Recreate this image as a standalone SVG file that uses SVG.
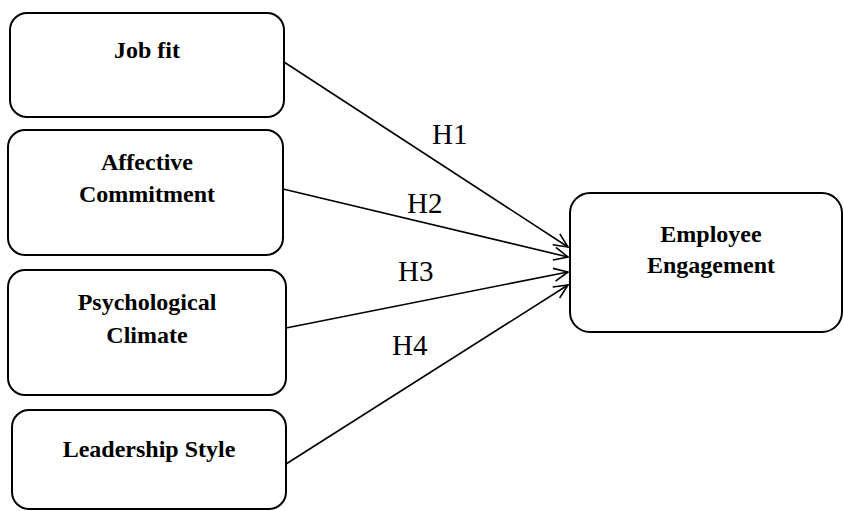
<svg xmlns="http://www.w3.org/2000/svg" width="844" height="511" viewBox="0 0 844 511">
  <style>
    .box { fill: #ffffff; stroke: #000000; stroke-width: 2; }
    .lbl { font-family: "Liberation Serif", "Times New Roman", serif; font-weight: bold; font-size: 24px; text-anchor: middle; fill: #000; }
    .h { font-family: "Liberation Serif", "Times New Roman", serif; font-size: 29px; fill: #000; }
    .conn { stroke: #000; stroke-width: 1.6; fill: none; marker-end: url(#arr); }
  </style>
  <defs>
    <marker id="arr" markerUnits="userSpaceOnUse" viewBox="-16 -8 18 16" refX="0" refY="0" markerWidth="18" markerHeight="16" orient="auto">
      <path d="M-14,-6.5 L0,0 L-14,6.5" fill="none" stroke="#000" stroke-width="1.6"/>
    </marker>
  </defs>
  <rect width="844" height="511" fill="#ffffff"/>
  <g id="job-fit">
    <rect class="box" x="10" y="13" width="274" height="104" rx="17" ry="17"/>
    <text class="lbl" x="147" y="58">Job fit</text>
  </g>
  <g id="affective-commitment">
    <rect class="box" x="8" y="130" width="275" height="125" rx="17" ry="17"/>
    <text class="lbl" x="147" y="170">Affective</text>
    <text class="lbl" x="147" y="202">Commitment</text>
  </g>
  <g id="psychological-climate">
    <rect class="box" x="8" y="270" width="278" height="125" rx="17" ry="17"/>
    <text class="lbl" x="147" y="310">Psychological</text>
    <text class="lbl" x="147" y="343">Climate</text>
  </g>
  <g id="leadership-style">
    <rect class="box" x="12" y="410" width="274" height="99" rx="17" ry="17"/>
    <text class="lbl" x="149" y="457">Leadership Style</text>
  </g>
  <g id="employee-engagement">
    <rect class="box" x="570" y="193" width="272" height="139" rx="20" ry="20"/>
    <text class="lbl" x="711" y="242">Employee</text>
    <text class="lbl" x="711" y="273">Engagement</text>
  </g>
  <g id="connectors">
    <line class="conn" x1="284" y1="62" x2="568" y2="247"/>
    <line class="conn" x1="283" y1="189" x2="568" y2="257"/>
    <line class="conn" x1="286" y1="328" x2="568" y2="272"/>
    <line class="conn" x1="286" y1="464" x2="568" y2="285"/>
    <text class="h" x="432" y="144">H1</text>
    <text class="h" x="407" y="213">H2</text>
    <text class="h" x="398" y="281">H3</text>
    <text class="h" x="392" y="355">H4</text>
  </g>
</svg>
